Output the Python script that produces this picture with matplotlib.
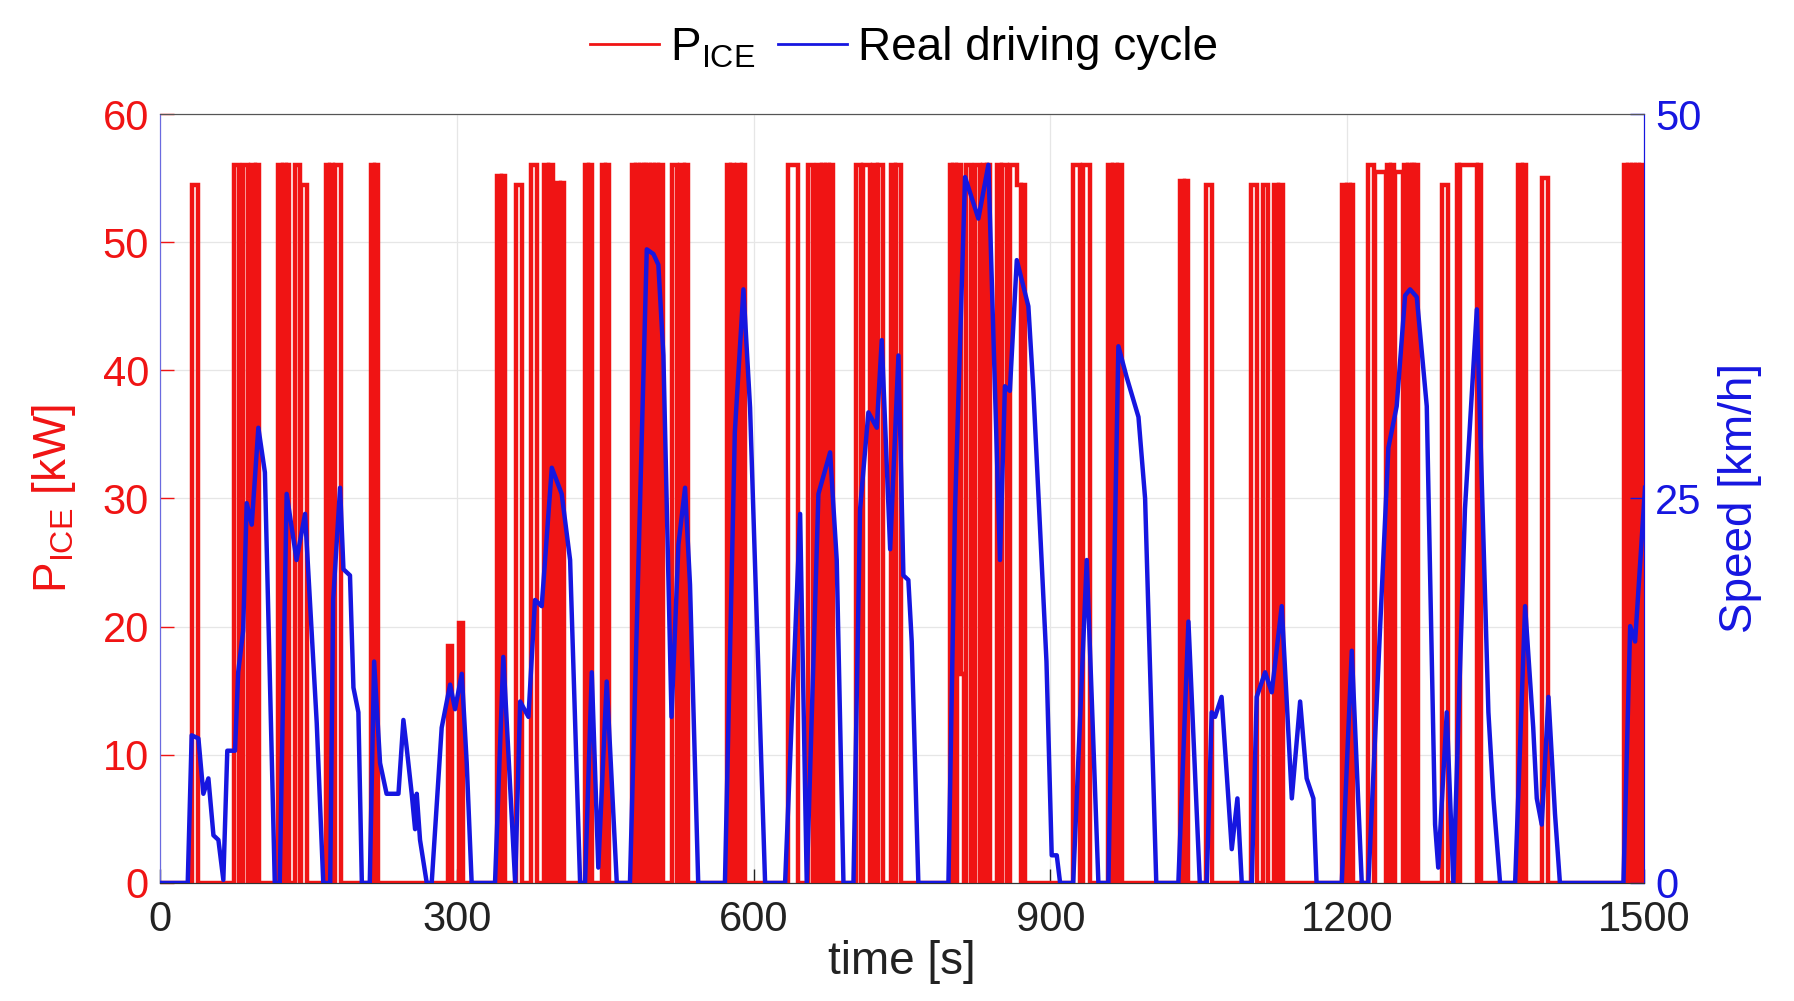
import numpy as np
import matplotlib
matplotlib.use("Agg")
import matplotlib.pyplot as plt
from matplotlib.lines import Line2D

plt.rcParams['font.family'] = ['Liberation Sans', 'DejaVu Sans']
plt.rcParams['mathtext.default'] = 'regular'

# ICE on/off switching: (on time [s], off time [s], power [kW])
pulse_on = [32, 75, 84, 92, 97, 119, 124, 128, 136, 143, 168, 172, 177, 213, 217,
            291, 302, 341, 346, 360, 375, 388, 393, 400, 405, 430, 434, 447, 451,
            477, 481, 485, 489, 492, 496, 500, 504, 517, 526, 531, 573, 577, 583, 588,
            635, 655, 664, 669, 673, 677, 703, 711, 721, 726, 739, 744,
            798, 802, 806, 810, 815, 824, 832, 836, 846, 851, 859, 866, 871,
            923, 933, 958, 963, 968, 1031, 1036, 1057, 1103, 1115, 1126, 1131,
            1195, 1200, 1204, 1221, 1228, 1240, 1244, 1248, 1257, 1261, 1265, 1269,
            1296, 1311, 1314, 1332, 1373, 1378, 1397, 1480, 1484, 1488, 1492, 1496]
pulse_off = [38, 80, 89, 96, 100, 123, 127, 130, 141, 149, 171, 175, 183, 216, 220,
             295, 306, 345, 349, 366, 381, 392, 397, 404, 408, 433, 437, 450, 454,
             480, 484, 488, 491, 495, 499, 503, 508, 523, 530, 534, 576, 580, 587, 591,
             645, 660, 668, 672, 676, 680, 709, 718, 725, 731, 743, 749,
             801, 805, 810, 813, 820, 829, 835, 839, 850, 856, 866, 870, 874,
             930, 940, 962, 967, 972, 1035, 1039, 1063, 1109, 1120, 1130, 1135,
             1199, 1203, 1206, 1227, 1239, 1243, 1247, 1256, 1260, 1264, 1268, 1272,
             1302, 1313, 1331, 1335, 1377, 1381, 1403, 1483, 1487, 1491, 1495, 1500]
pulse_kw = [54.5, 56, 56, 56, 56, 56, 56, 56, 56, 54.5, 56, 56, 56, 56, 56,
            18.5, 20.3, 55.2, 55.2, 54.5, 56, 56, 56, 54.6, 54.6, 56, 56, 56, 56,
            56, 56, 56, 56, 56, 56, 56, 56, 56, 56, 56, 56, 56, 56, 56,
            56, 56, 56, 56, 56, 56, 56, 56, 56, 56, 56, 56,
            56, 56, 56, 16.3, 56, 56, 56, 56, 56, 56, 56, 54.5, 54.5,
            56, 56, 56, 56, 56, 54.8, 54.8, 54.5, 54.5, 54.5, 54.5, 54.5,
            54.5, 54.5, 54.5, 56, 55.5, 56, 56, 55.5, 56, 56, 56, 56,
            54.5, 56, 56, 56, 56, 56, 55, 56, 56, 56, 56, 56]

# real driving cycle: time [s], speed [km/h]
speed_t = [0, 28, 32, 38.8, 43.8, 48.9, 54, 59, 64, 68, 75.8, 79, 84, 87.6, 92.7, 99.4,
           106, 116, 121, 128, 138, 146.6, 158.4, 165, 172, 175, 182, 185.4, 192, 195.5,
           200.5, 204, 212, 216.4, 222.4, 229, 241, 246, 249.3, 254.4, 257.8, 259.5,
           262.8, 269.6, 274.6, 284.7, 293.2, 298.2, 305, 310, 315, 338.6, 347, 359,
           364, 372.4, 379, 385.8, 396, 406, 414.5, 424.6, 429.6, 436.4, 443, 451.5,
           461.7, 475, 492, 498.7, 503.7, 508.8, 517, 524, 530.7, 535.7, 544, 571, 581,
           589.7, 596.4, 611.6, 631.8, 647, 653.7, 660.4, 665.5, 677.3, 684, 690.8,
           700.9, 707.6, 716, 724.5, 729.5, 738, 746.4, 751.4, 756.4, 759.8, 766.5,
           796.9, 803.6, 813.7, 827.2, 837.3, 849, 854, 859, 866, 877.7, 882.8, 896,
           901.3, 906.4, 909.8, 923, 936.7, 948.5, 958.6, 968.7, 977, 989, 995.7, 1007,
           1029.3, 1039.5, 1051, 1058, 1063, 1066.4, 1073, 1083.3, 1089, 1093.4, 1103.5,
           1108.5, 1117, 1123.7, 1133.8, 1144, 1152.4, 1159, 1165.8, 1169, 1194.5,
           1204.6, 1214.7, 1221.4, 1241.6, 1250, 1258.5, 1263.5, 1270.3, 1280.4, 1288.8,
           1292, 1300.6, 1307.3, 1319, 1331, 1342.7, 1347.8, 1354.5, 1369.7, 1379.8,
           1388, 1391.6, 1396.6, 1403.4, 1410, 1415, 1479.2, 1486, 1491, 1501]
speed_v = [0, 0, 9.6, 9.4, 5.8, 6.8, 3.1, 2.8, 0.2, 8.6, 8.6, 13.7, 16.4, 24.7, 23.3, 29.6,
           26.7, 0, 0, 25.3, 21, 24, 10.4, 0, 0, 18.4, 25.7, 20.4, 20, 12.7,
           11.1, 0, 0, 14.4, 7.8, 5.8, 5.8, 10.6, 8.8, 5.8, 3.5, 5.8,
           2.8, 0, 0, 10.1, 12.9, 11.3, 13.6, 7.8, 0, 0, 14.7, 0,
           11.8, 10.8, 18.4, 18, 27, 25.3, 21, 0, 0, 13.7, 1, 13.1,
           0, 0, 41.2, 40.9, 40.2, 34.3, 10.8, 22, 25.7, 19.4, 0, 0, 29.3,
           38.6, 30.9, 0, 0, 24, 0, 14.4, 25.3, 28, 21, 0,
           0, 24.3, 30.6, 29.6, 35.3, 21.7, 34.3, 20, 19.7, 15.7, 0,
           0, 24.3, 45.9, 43.2, 46.7, 21, 32.3, 32, 40.5, 37.5, 32, 14.4,
           1.8, 1.8, 0, 0, 21, 0, 0, 34.9, 32.9, 30.3, 25, 0,
           0, 17, 0, 0, 11.1, 10.8, 12.1, 2.2, 5.5, 0, 0,
           12.1, 13.7, 12.4, 18, 5.5, 11.8, 6.8, 5.5, 0, 0,
           15.1, 0, 0, 28.3, 31, 38.2, 38.6, 38.1, 31, 3.8,
           1, 11.1, 0, 24.3, 37.3, 11.1, 5.5, 0, 0, 18,
           10.1, 5.5, 3.8, 12.1, 4.5, 0, 0, 16.7, 15.7, 25.7]

RED = '#f01414'
BLUE = '#1616e0'


def ice_profile(on, off, kw):
    """Build step outline of the ICE power from switching times"""
    xs, ys = [0.0], [0.0]
    for i in range(len(on)):
        if xs[-1] != on[i]:
            xs += [on[i]]
            ys += [0.0]
        xs += [on[i], off[i]]
        ys += [kw[i], kw[i]]
        nxt = on[i + 1] if i + 1 < len(on) else None
        if nxt != off[i]:
            xs += [off[i]]
            ys += [0.0]
    xs.append(1500.0)
    ys.append(0.0)
    return np.array(xs), np.array(ys)


ice_x, ice_y = ice_profile(pulse_on, pulse_off, pulse_kw)

fig = plt.figure(figsize=(17.94, 10.01), dpi=100)
ax = fig.add_axes([0.0892, 0.1179, 0.8272, 0.7682])
ax2 = ax.twinx()

ax.plot(ice_x, ice_y, color=RED, lw=3.2, solid_joinstyle='miter', zorder=3)
ax2.plot(speed_t, speed_v, color=BLUE, lw=3.2, zorder=3)

ax.set_xlim(0, 1500)
ax.set_ylim(0, 60)
ax2.set_ylim(0, 50)
ax.set_xticks(np.arange(0, 1501, 300))
ax.set_yticks(np.arange(0, 61, 10))
ax2.set_yticks([0, 25, 50])

ax.grid(True, color='#e6e6e6', lw=0.9)
ax.set_axisbelow(True)

ax.tick_params(axis='x', direction='in', length=10, width=1, labelsize=30,
               colors='#222222', pad=12, top=False)
ax.tick_params(axis='y', direction='in', length=10, width=1, labelsize=30,
               colors=RED, pad=8)
ax2.tick_params(axis='y', direction='in', length=10, width=1, labelsize=30,
                colors=BLUE, pad=8)

for a in (ax, ax2):
    a.spines['top'].set_color('#555555')
    a.spines['bottom'].set_color('#333333')
    a.spines['left'].set_color('#6a6ae0')
    a.spines['right'].set_color(BLUE)

ax.set_xlabel('time [s]', fontsize=33, color='#222222', labelpad=0)
ax.set_ylabel('P$_{ICE}$ [kW]', fontsize=33, color=RED, labelpad=18)
ax2.set_ylabel('Speed [km/h]', fontsize=33, color=BLUE, labelpad=12)

handles = [Line2D([], [], color=RED, lw=2), Line2D([], [], color=BLUE, lw=2)]
fig.legend(handles, ['P$_{ICE}$', 'Real driving cycle'], loc='center',
           bbox_to_anchor=(0.504, 0.952), ncol=2, frameon=False, fontsize=33,
           handlelength=1.5, handletextpad=0.25, columnspacing=0.5)

fig.savefig('out.png', dpi=100)
